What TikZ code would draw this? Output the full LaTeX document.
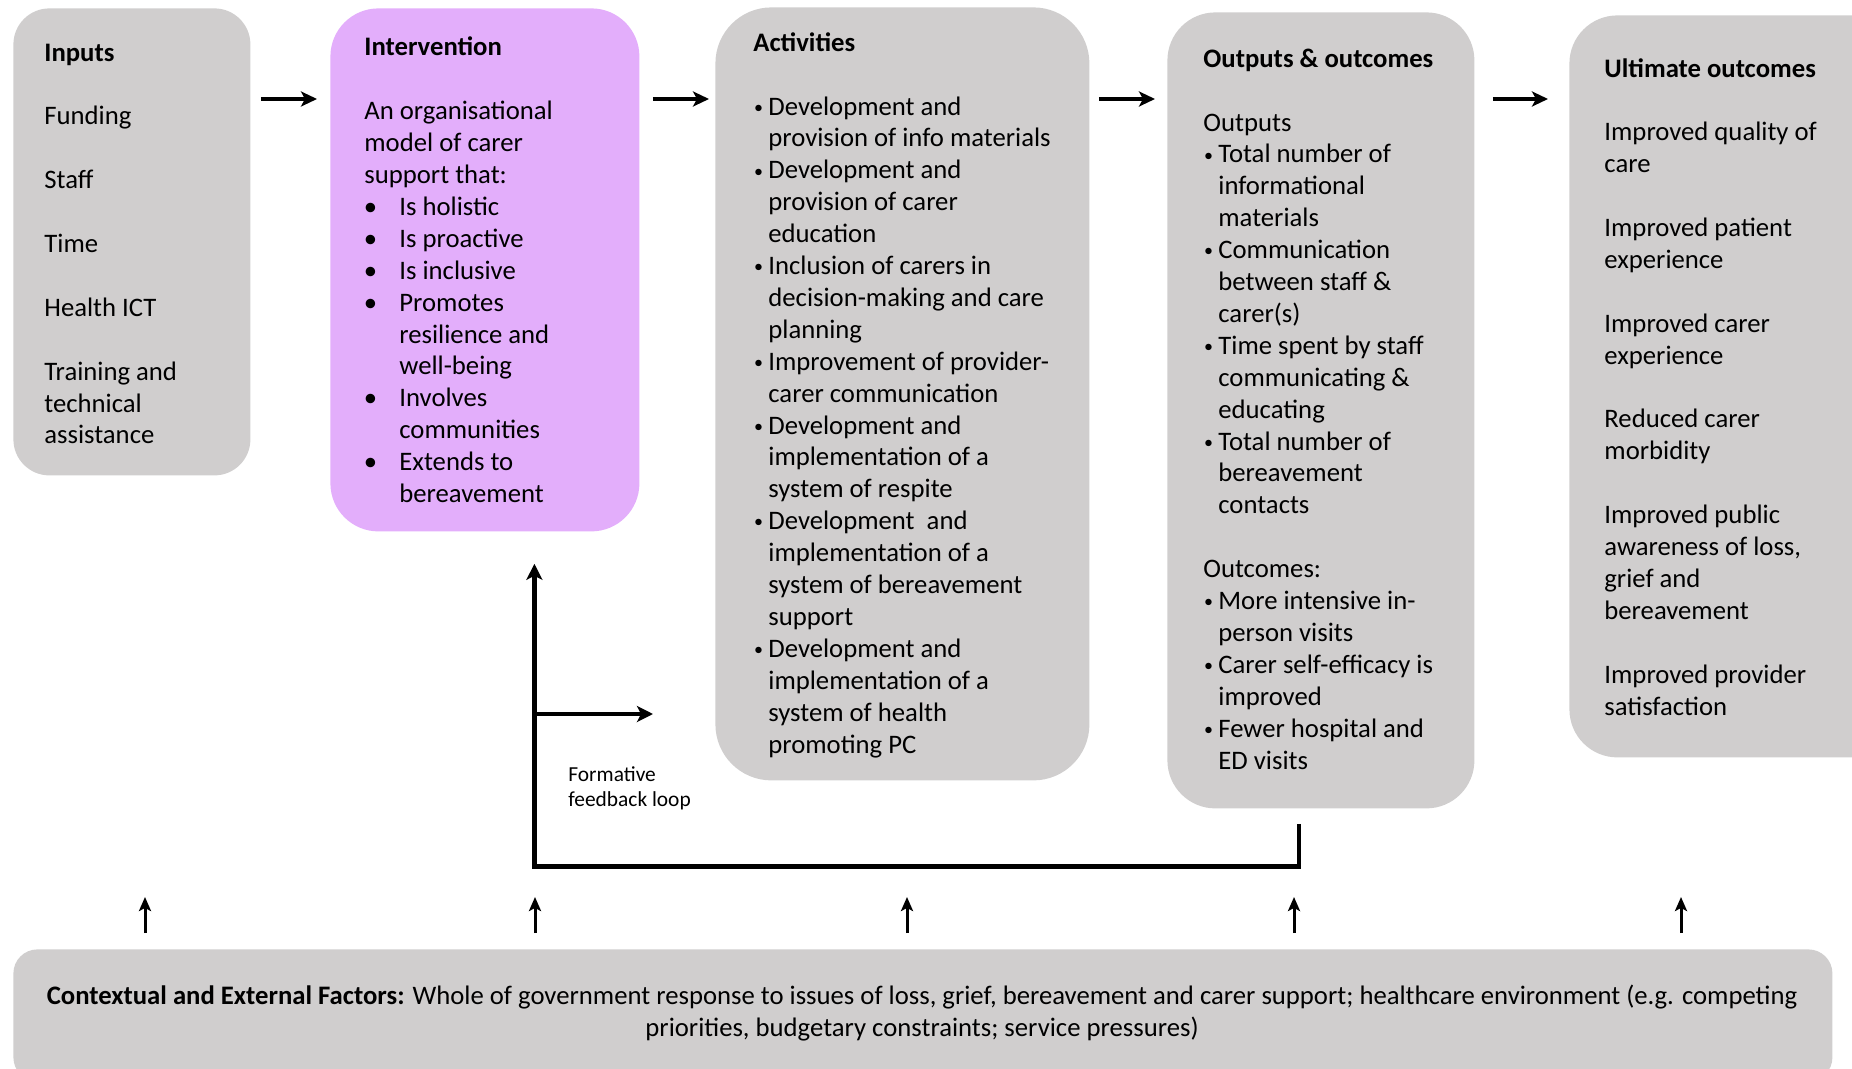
\documentclass[tikz,border=0pt]{standalone}
\usepackage{fontspec}
\setmainfont{Carlito}
\usepackage{tikz}
\usetikzlibrary{arrows.meta, positioning}
\definecolor{boxgrey}{HTML}{D0CECE}
\definecolor{boxpink}{HTML}{E3AEFB}
\newcommand{\bodyfont}{\fontsize{13.35}{15.95}\selectfont}
\newcommand{\gap}{\\[15.95pt]}
\newcommand{\sbul}{\makebox[7.5pt][l]{\hspace{0.3pt}\raisebox{0.9pt}{\fontsize{9}{9}\selectfont\textbullet}}}
\newcommand{\sind}{\hspace*{7.5pt}}
\newcommand{\wbul}{\makebox[17.5pt][l]{\hspace{-0.3pt}\textbullet}}
\newcommand{\wind}{\hspace*{17.5pt}}

\begin{document}
\begin{tikzpicture}[
    x=0.5pt, y=-0.5pt,
    every node/.style={font=\bodyfont},
    panel/.style={
        rectangle,
        fill=boxgrey,
        draw=none,
        inner sep=0pt,
        anchor=north west
    },
    boxtext/.style={anchor=base west, inner sep=0pt, align=left},
    flow/.style={line width=2pt, -{Stealth[length=8pt,width=7.5pt,inset=2pt]}},
    feedback/.style={line width=2.4pt, -{Stealth[length=8pt,width=8pt,inset=2pt]}},
    lift/.style={line width=1.5pt, -{Stealth[length=7pt,width=6pt,inset=1.5pt]}}
]
\useasboundingbox (0,0) rectangle (1852,1069);

% panels
\node[panel, minimum width=118.5pt, minimum height=233.5pt, rounded corners=18pt] (inputs) at (13,8) {};
\node[panel, fill=boxpink, minimum width=154.5pt, minimum height=261.5pt, rounded corners=24pt] (interv) at (330,8) {};
\node[panel, minimum width=187pt, minimum height=386.5pt, rounded corners=28pt] (activities) at (715,7) {};
\node[panel, minimum width=153.5pt, minimum height=398pt, rounded corners=24pt] (outputs) at (1167,12) {};
\node[panel, minimum width=165pt, minimum height=371pt, rounded corners=24pt] (ultimate) at (1569,15) {};
\node[panel, minimum width=909.5pt, minimum height=66pt, rounded corners=12pt] (context) at (13,949) {};

% texts (placed at the baseline of their last line)
\node[boxtext] (inputstext) at (44,444) {\textbf{Inputs}\gap
Funding\gap
Staff\gap
Time\gap
Health ICT\gap
Training and\\
technical\\
assistance};

\node[boxtext] (intervtext) at (364,502.5) {\textbf{Intervention}\gap
An organisational\\
model of carer\\
support that:\\
\wbul Is holistic\\
\wbul Is proactive\\
\wbul Is inclusive\\
\wbul Promotes\\
\wind resilience and\\
\wind well-being\\
\wbul Involves\\
\wind communities\\
\wbul Extends to\\
\wind bereavement};

\node[boxtext] (activitiestext) at (753,753) {\textbf{Activities}\gap
\sbul Development and\\
\sind provision of info materials\\
\sbul Development and\\
\sind provision of carer\\
\sind education\\
\sbul Inclusion of carers in\\
\sind decision-making and care\\
\sind planning\\
\sbul Improvement of provider-\\
\sind carer communication\\
\sbul Development and\\
\sind implementation of a\\
\sind system of respite\\
\sbul Development~ and\\
\sind implementation of a\\
\sind system of bereavement\\
\sind support\\
\sbul Development and\\
\sind implementation of a\\
\sind system of health\\
\sind promoting PC};

\node[boxtext] (outputstext) at (1203,769) {\textbf{Outputs \& outcomes}\gap
Outputs\\
\sbul Total number of\\
\sind informational\\
\sind materials\\
\sbul Communication\\
\sind between staff \&\\
\sind carer(s)\\
\sbul Time spent by staff\\
\sind communicating \&\\
\sind educating\\
\sbul Total number of\\
\sind bereavement\\
\sind contacts\gap
Outcomes:\\
\sbul More intensive in-\\
\sind person visits\\
\sbul Carer self-efficacy is\\
\sind improved\\
\sbul Fewer hospital and\\
\sind ED visits};

\node[boxtext] (ultimatetext) at (1604,715) {\textbf{Ultimate outcomes}\gap
Improved quality of\\
care\gap
Improved patient\\
experience\gap
Improved carer\\
experience\gap
Reduced carer\\
morbidity\gap
Improved public\\
awareness of loss,\\
grief and\\
bereavement\gap
Improved provider\\
satisfaction};

\node[anchor=base, inner sep=0pt, align=center] (contexttext) at (922,1036) {\textbf{Contextual and External Factors:} Whole of government response to issues of loss, grief, bereavement and carer support; healthcare environment (e.g. competing\\
priorities, budgetary constraints; service pressures)};

\node[boxtext, font=\fontsize{10.7}{12.4}\selectfont] (loopnote) at (568,806) {Formative\\feedback loop};

% main flow
\coordinate (flowrow) at (0,99);
\draw[flow] ([xshift=5pt]inputs.east |- flowrow) -- ([xshift=-6.5pt]interv.west |- flowrow);
\draw[flow] ([xshift=6.5pt]interv.east |- flowrow) -- ([xshift=-3pt]activities.west |- flowrow);
\draw[flow] ([xshift=4.5pt]activities.east |- flowrow) -- ([xshift=-6pt]outputs.west |- flowrow);
\draw[flow] ([xshift=9pt]outputs.east |- flowrow) -- ([xshift=-10.5pt]ultimate.west |- flowrow);

% feedback loop
\draw[feedback] ([xshift=-11pt,yshift=-7.5pt]outputs.south) -- ++(0,43) -| ([xshift=24.75pt,yshift=-16pt]interv.south);
\coordinate (branch) at (534,714);
\draw[feedback] (branch) -- ([xshift=-31pt]activities.west |- branch);

% external factors
\foreach \x [count=\i] in {145,535,907,1294,1681} {
    \coordinate (up\i) at (\x,0);
    \draw[lift] ([yshift=8pt]context.north -| up\i) -- ([yshift=26pt]context.north -| up\i);
}

\end{tikzpicture}
\end{document}
